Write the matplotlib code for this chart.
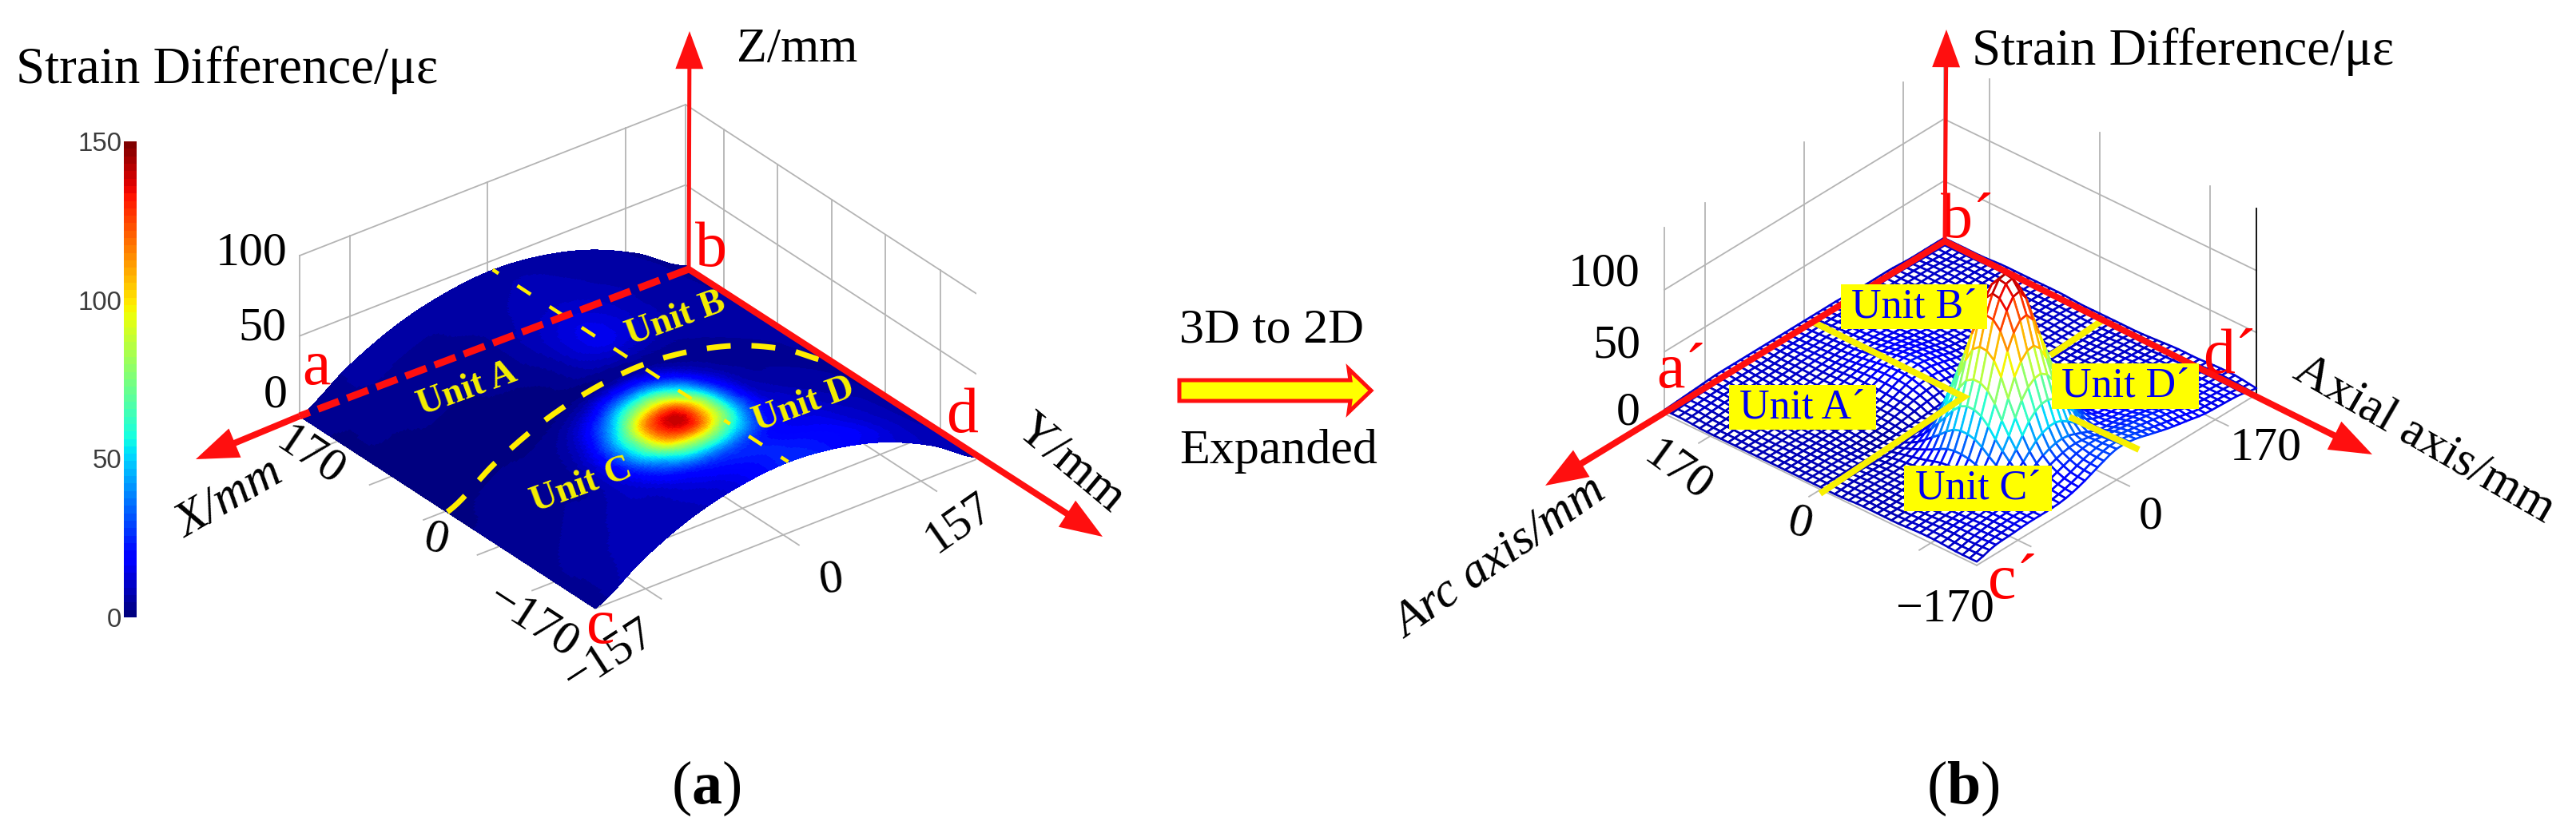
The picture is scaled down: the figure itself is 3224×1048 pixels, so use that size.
import numpy as np
import matplotlib
matplotlib.use('Agg')
import matplotlib.pyplot as plt
from matplotlib.cm import ScalarMappable
from matplotlib.colors import Normalize
from matplotlib.patches import FancyArrowPatch, Polygon, Rectangle
from mpl_toolkits.mplot3d import proj3d

plt.rcParams['font.family'] = ['Liberation Serif', 'DejaVu Serif']
plt.rcParams['mathtext.fontset'] = 'custom'
plt.rcParams['mathtext.rm'] = 'Liberation Serif'
plt.rcParams['mathtext.bf'] = 'Liberation Serif:bold'
plt.rcParams['lines.scale_dashes'] = False
plt.rcParams['lines.dash_capstyle'] = 'butt'

W, H = 3224, 1048
PX = 0.72

# ---- data -----------------------------------------------------------------
# strain difference; rows run a->c (X 170 to -170), columns c->d (Y -157 to 157)
strain_table = np.array([
    [3,4,5,6,6,6,6,6,6,6,6,5,5,5,4,4,4],
    [3,4,5,5,5,5,6,6,7,7,6,6,5,5,5,4,4],
    [2,3,4,4,4,5,6,7,8,8,7,6,6,5,5,5,4],
    [2,3,3,3,3,4,6,8,9,9,8,7,6,6,5,5,5],
    [2,2,3,3,3,4,7,10,12,11,9,7,6,6,6,5,5],
    [2,2,2,2,3,4,7,12,15,13,9,7,6,6,6,5,5],
    [2,2,2,2,2,3,6,12,15,12,8,6,6,6,5,5,5],
    [2,2,2,1,1,2,5,8,9,7,5,5,5,5,5,5,4],
    [2,2,2,1,1,2,3,4,4,3,3,3,4,4,4,4,4],
    [2,3,3,3,6,14,27,30,21,10,5,4,4,4,4,4,4],
    [3,3,3,4,13,39,73,82,55,24,9,5,5,5,5,5,4],
    [3,3,4,5,21,63,120,134,90,37,12,7,6,6,6,5,5],
    [3,4,5,6,21,62,116,130,88,38,14,10,8,7,7,6,6],
    [4,5,6,8,15,38,69,77,55,26,14,12,10,9,8,7,6],
    [4,6,7,9,10,19,30,33,26,18,16,15,12,10,9,8,7],
    [3,6,8,9,9,12,17,22,24,22,20,18,15,11,9,8,7],
    [3,7,8,9,9,10,14,20,25,24,20,16,13,10,9,8,5],
], dtype=float)
arch_heights = np.array([0, 19, 33, 41, 44, 41, 33, 19, 0], dtype=float)

x_range_a = [170, -170]
y_range_a = [-157, 157]
z_ticks_a = [0, 50, 100]
z_top_a = 100
x_grid_a = [126, 64, 2, -60, -123]
y_grid_a = [-116, -4, 108]

x_range_b = [170, -170]
y_range_b = [-170, 170]
z_ticks_b = [0, 50, 100]
z_top_b = 150
x_grid_b = [-120, 0, 120]
y_grid_b = [-120, 0, 120]

cbar_ticks = [0, 50, 100, 150]
cmap = plt.get_cmap('jet', 64)
norm = Normalize(0, 150)


def smooth(y, n):
    """Catmull-Rom refinement along the first axis, for drawing only."""
    y = np.asarray(y, float)
    m = y.shape[0]
    p = np.linspace(0, m - 1, n)
    i = np.clip(p.astype(int), 0, m - 2)
    f = p - i
    f = f.reshape((-1,) + (1,) * (y.ndim - 1))
    p0, p1, p2, p3 = y[np.maximum(i - 1, 0)], y[i], y[i + 1], y[np.minimum(i + 2, m - 1)]
    return 0.5 * (2 * p1 + (p2 - p0) * f + (2 * p0 - 5 * p1 + 4 * p2 - p3) * f ** 2
                  + (3 * p1 - p0 - 3 * p2 + p3) * f ** 3)


def refine(table, n):
    return np.clip(smooth(smooth(table, n).T, n).T, 0, None)


fig = plt.figure(figsize=(W / 100, H / 100), dpi=100, facecolor='white')


def new3d(az, el, box, xr, yr, zr):
    ax = fig.add_axes([0, 0, 0.3, 0.3 * W / H], projection='3d', computed_zorder=False,
                      proj_type='ortho')
    ax.set_xlim(*xr); ax.set_ylim(*yr); ax.set_zlim(*zr)
    ax.set_box_aspect(box)
    ax.view_init(elev=el, azim=az)
    ax.set_axis_off()
    ax.patch.set_alpha(0)
    return ax


def measure(ax, p):
    ax.apply_aspect()
    x, y, _ = proj3d.proj_transform(p[0], p[1], p[2], ax.get_proj())
    return ax.transData.transform((x, y))


def place(ax, p1, p2, t1, t2):
    """Scale and move the 3-D axes so two data corners land on two picture points."""
    t1 = np.array([t1[0], H - t1[1]], float); t2 = np.array([t2[0], H - t2[1]], float)
    S = 0.3 * W
    for _ in range(3):
        d = np.linalg.norm(measure(ax, p2) - measure(ax, p1))
        S *= np.linalg.norm(t2 - t1) / d
        pos = ax.get_position(original=True)
        ax.set_position([pos.x0, pos.y0, S / W, S / H])
    m = 0.5 * (measure(ax, p1) + measure(ax, p2))
    shift = 0.5 * (t1 + t2) - m
    pos = ax.get_position(original=True)
    ax.set_position([pos.x0 + shift[0] / W, pos.y0 + shift[1] / H, S / W, S / H])


GREY = '#b4b4b4'


def walls(ax, xr, yr, zticks, ztop, xg, yg, ext, black_lw):
    k = dict(color=GREY, lw=1.8 * PX, zorder=1)
    xb, xf = xr
    yl, yh = yr
    ax.plot([xb, xf], [yl, yl], [0, 0], **k)
    ax.plot([xf, xf], [yl, yh], [0, 0], **k)
    ax.plot([xb, xb], [yl, yh], [0, 0], **k)
    ax.plot([xb, xf], [yh, yh], [0, 0], **k)
    for z in zticks[1:]:
        ax.plot([xb, xb], [yl, yh], [z, z], **k)
        ax.plot([xb, xf], [yh, yh], [z, z], **k)
    ax.plot([xb, xb], [yl, yl], [0, ztop], **k)
    ax.plot([xb, xb], [yh, yh], [0, ztop], **k)
    for y in yg:
        ax.plot([xb, xb], [y, y], [0, ztop], **k)
        ax.plot([xb, xf - ext * np.sign(xb)], [y, y], [0, 0], **k)
    for x in xg:
        ax.plot([x, x], [yh, yh], [0, ztop], **k)
        ax.plot([x, x], [yh, yl - ext], [0, 0], **k)
    ax.plot([xf, xf], [yh, yh], [0, ztop], color='k', lw=black_lw * PX, zorder=1)


# ---- panel (a) ------------------------------------------------------------
axa = new3d(-37.8, 30.3, (340 * 1.775, 314 * 1.947, z_top_a * 2.33),
            x_range_a, y_range_a, (0, z_top_a))
place(axa, (170, -157, 0), (-170, 157, 0), (375, 521), (1228, 573))
walls(axa, x_range_a, y_range_a, z_ticks_a, z_top_a, x_grid_a, y_grid_a, 18, 3)

NA = 190
u = np.linspace(0, 1, NA)
XA = 170 - 340 * u
YA = -157 + 314 * u
arch = smooth(arch_heights, NA)
X2, Y2 = np.meshgrid(XA, YA, indexing='ij')
Z2 = np.tile(arch, (NA, 1))
S2 = refine(strain_table, NA)
axa.plot_surface(X2, Y2, Z2, facecolors=cmap(norm(S2)), rstride=1, cstride=1,
                 linewidth=0, antialiased=False, shade=False, zorder=2)
# unit boundaries lying on the surface
axa.plot(np.zeros(NA), YA, arch + 0.3, color='#ffee00', lw=7 * PX, ls=(0, (30 * PX, 26 * PX)), zorder=3)
ridge = np.full(NA, arch_heights[4]) + 0.3
ridge[(u > 0.71) & (u < 0.78)] = np.nan     # this dash is missing in the picture
axa.plot(XA, np.zeros(NA), ridge, color='#ffee00', lw=4.5 * PX,
         ls=(8, (20 * PX, 28 * PX)), zorder=3)

# ---- panel (b) ------------------------------------------------------------
axb = new3d(-48.3, 33.0, (340 * 1.54, 340 * 1.547, z_top_b * 1.85),
            x_range_b, y_range_b, (0, z_top_b))
place(axb, (170, -170, 0), (-170, 170, 0), (2083, 518), (2824, 494))
walls(axb, x_range_b, y_range_b, z_ticks_b, z_top_b, x_grid_b, y_grid_b, 14, 1.8)
NB = 45
v = np.linspace(0, 1, NB)
XB, YB = np.meshgrid(170 - 340 * v, -170 + 340 * v, indexing='ij')
ZB = refine(strain_table, NB)
mid = 0.25 * (ZB[:-1, :-1] + ZB[1:, :-1] + ZB[:-1, 1:] + ZB[1:, 1:])
mesh = axb.plot_surface(XB, YB, ZB, color='white', rstride=1, cstride=1, shade=False,
                        linewidth=2.6 * PX, antialiased=True, zorder=2)
mesh.set_facecolor('white')
mesh.set_edgecolor(cmap(norm(np.clip(mid + 6, 0, 150))).reshape(-1, 4))

# ---- colour bar -----------------------------------------------------------
cax = fig.add_axes([155 / W, 1 - 773 / H, 16 / W, (773 - 177) / H])
cb = fig.colorbar(ScalarMappable(norm, cmap), cax=cax)
cb.set_ticks(cbar_ticks)
cb.ax.yaxis.set_ticks_position('left')
cb.ax.tick_params(length=0, pad=2, labelsize=33 * PX, labelcolor='#3c3c3c')
for lab in cb.ax.get_yticklabels():
    lab.set_fontfamily('Liberation Sans')
cb.outline.set_visible(False)

# ---- overlay in picture pixels --------------------------------------------
ov = fig.add_axes([0, 0, 1, 1], zorder=10)
ov.set_xlim(0, W); ov.set_ylim(H, 0); ov.axis('off'); ov.patch.set_alpha(0)
RED = '#ff0f0f'


def txt(x, y, s, px=62, rot=0, color='k', **kw):
    ov.text(x, y, s, fontsize=px * PX, rotation=rot, color=color, ha='center', va='center',
            rotation_mode='anchor', **kw)


def arrow(p, q, lw=7):
    ov.add_patch(FancyArrowPatch(p, q, arrowstyle='-|>,head_length=27,head_width=10',
                                 mutation_scale=1, color=RED, lw=lw * PX, shrinkA=0, shrinkB=0,
                                 joinstyle='miter', capstyle='butt', zorder=5))


# panel (a) axes
arrow((862, 337), (863, 39), 5)
ov.plot([862, 375], [337, 521], color=RED, lw=9 * PX, ls=(0, (28 * PX, 11 * PX)), zorder=5)
arrow((375, 521), (245, 575), 8)
arrow((862, 337), (1380, 672), 8)

txt(284, 88, 'Strain Difference/\u03bc\u03b5', 65)
txt(998, 62, 'Z/mm', 62)
txt(315, 318, '100', 60); txt(328, 411, '50', 60); txt(345, 496, '0', 60)
txt(388, 572, '170', 60, -34)
txt(546, 677, '0', 60, -14)
txt(666, 779, '\u2212170', 60, -33)
txt(762, 822, '\u2212157', 60, 33)
txt(1041, 727, '0', 60, 8)
txt(1200, 655, '157', 60, 35)
txt(287, 625, 'X/mm', 62, 30, style='italic')
txt(1339, 581, 'Y/mm', 62, -40)
txt(396, 461, 'a', 80, color='red'); txt(890, 313, 'b', 80, color='red')
txt(752, 785, 'c', 80, color='red'); txt(1204, 521, 'd', 80, color='red')
for x, y, s in [(585, 488, 'Unit A'), (846, 400, 'Unit B'), (728, 608, 'Unit C'), (1006, 507, 'Unit D')]:
    txt(x, y, s, 46, 20, color='#f5f000', fontweight='bold')

# middle arrow
ov.add_patch(Polygon([(1476, 476), (1690, 476), (1688, 462), (1716, 489), (1688, 516), (1690, 502), (1476, 502)],
                     closed=True, fc='#ffff00', ec=RED, lw=5 * PX, joinstyle='miter'))
txt(1591, 414, '3D to 2D', 62)
txt(1600, 565, 'Expanded', 62)

# panel (b) axes and boundaries
YEL = '#f8f000'
for seg in ([(2269, 403), (2458, 497), (2278, 618)], [(2630, 402), (2566, 445)], [(2590, 522), (2677, 563)]):
    xs, ys = zip(*seg)
    ov.plot(xs, ys, color=YEL, lw=8 * PX, solid_joinstyle='miter', solid_capstyle='butt', zorder=4)
arrow((2434, 302), (2436, 37), 5)
arrow((2434, 302), (1934, 608), 8)
arrow((2434, 302), (2969, 569), 8)
for (x0, x1, y0, y1, s) in [(2164, 2348, 482, 538, 'Unit A\u00b4'), (2304, 2487, 356, 412, 'Unit B\u00b4'),
                            (2383, 2568, 583, 640, 'Unit C\u00b4'), (2568, 2752, 455, 512, 'Unit D\u00b4')]:
    ov.add_patch(Rectangle((x0, y0), x1 - x0, y1 - y0, fc='#ffff00', ec='none', zorder=6))
    ov.text((x0 + x1) / 2, (y0 + y1) / 2, s, fontsize=52 * PX, color='#0000f0', ha='center', va='center', zorder=7)
txt(2732, 65, 'Strain Difference/\u03bc\u03b5', 65)
txt(2008, 343, '100', 60); txt(2023, 433, '50', 60); txt(2038, 518, '0', 60)
txt(2100, 591, '170', 60, -36)
txt(2253, 657, '0', 60, -14)
txt(2434, 764, '\u2212170', 60)
txt(2836, 562, '170', 60)
txt(2692, 647, '0', 60)
txt(1878, 699, 'Arc axis/mm', 62, 35, style='italic')
txt(3034, 551, 'Axial axis/mm', 62, -30)
txt(2104, 466, 'a\u00b4', 80, color='red'); txt(2462, 277, 'b\u00b4', 80, color='red')
txt(2790, 447, 'd\u00b4', 80, color='red'); txt(2519, 730, 'c\u00b4', 80, color='red')

txt(884, 987, r'$(\mathbf{a})$', 76)
txt(2457, 987, r'$(\mathbf{b})$', 76)

fig.savefig('out.png', dpi=100, facecolor='white')
